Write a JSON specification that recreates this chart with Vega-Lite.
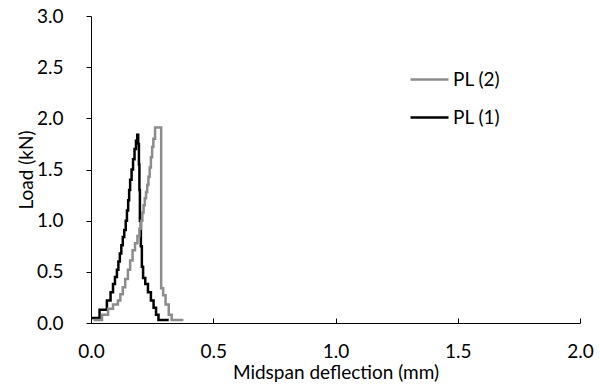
{
  "$schema": "https://vega.github.io/schema/vega-lite/v6.json",
  "width": 489,
  "height": 307,
  "autosize": "none",
  "padding": {"left": 91, "top": 16, "right": 20, "bottom": 67},
  "background": "white",
  "config": {
    "view": {"stroke": null},
    "font": "Lato",
    "axis": {"grid": false, "domainColor": "#000", "tickColor": "#000", "labelColor": "#000", "titleColor": "#000", "labelFont": "Lato", "titleFont": "Lato", "labelFontSize": 19, "titleFontSize": 19, "titleFontWeight": "normal", "labelFlush": false}
  },
  "data": {"values": [
    {"s": "PL (1)", "x": 0.0, "y": 0.05},
    {"s": "PL (1)", "x": 0.035, "y": 0.13},
    {"s": "PL (1)", "x": 0.065, "y": 0.22},
    {"s": "PL (1)", "x": 0.08, "y": 0.30},
    {"s": "PL (1)", "x": 0.09, "y": 0.38},
    {"s": "PL (1)", "x": 0.098, "y": 0.45},
    {"s": "PL (1)", "x": 0.106, "y": 0.52},
    {"s": "PL (1)", "x": 0.112, "y": 0.60},
    {"s": "PL (1)", "x": 0.118, "y": 0.68},
    {"s": "PL (1)", "x": 0.124, "y": 0.76},
    {"s": "PL (1)", "x": 0.130, "y": 0.84},
    {"s": "PL (1)", "x": 0.136, "y": 0.91},
    {"s": "PL (1)", "x": 0.142, "y": 1.00},
    {"s": "PL (1)", "x": 0.147, "y": 1.10},
    {"s": "PL (1)", "x": 0.152, "y": 1.20},
    {"s": "PL (1)", "x": 0.156, "y": 1.30},
    {"s": "PL (1)", "x": 0.160, "y": 1.40},
    {"s": "PL (1)", "x": 0.166, "y": 1.50},
    {"s": "PL (1)", "x": 0.172, "y": 1.60},
    {"s": "PL (1)", "x": 0.178, "y": 1.70},
    {"s": "PL (1)", "x": 0.184, "y": 1.78},
    {"s": "PL (1)", "x": 0.189, "y": 1.84},
    {"s": "PL (1)", "x": 0.193, "y": 1.75},
    {"s": "PL (1)", "x": 0.196, "y": 1.55},
    {"s": "PL (1)", "x": 0.198, "y": 1.30},
    {"s": "PL (1)", "x": 0.200, "y": 1.00},
    {"s": "PL (1)", "x": 0.204, "y": 0.75},
    {"s": "PL (1)", "x": 0.208, "y": 0.55},
    {"s": "PL (1)", "x": 0.213, "y": 0.44},
    {"s": "PL (1)", "x": 0.222, "y": 0.38},
    {"s": "PL (1)", "x": 0.233, "y": 0.30},
    {"s": "PL (1)", "x": 0.245, "y": 0.22},
    {"s": "PL (1)", "x": 0.256, "y": 0.15},
    {"s": "PL (1)", "x": 0.266, "y": 0.08},
    {"s": "PL (1)", "x": 0.276, "y": 0.03},
    {"s": "PL (1)", "x": 0.318, "y": 0.03},
    {"s": "PL (2)", "x": 0.01, "y": 0.03},
    {"s": "PL (2)", "x": 0.045, "y": 0.08},
    {"s": "PL (2)", "x": 0.07, "y": 0.14},
    {"s": "PL (2)", "x": 0.09, "y": 0.18},
    {"s": "PL (2)", "x": 0.11, "y": 0.22},
    {"s": "PL (2)", "x": 0.12, "y": 0.28},
    {"s": "PL (2)", "x": 0.13, "y": 0.35},
    {"s": "PL (2)", "x": 0.14, "y": 0.43},
    {"s": "PL (2)", "x": 0.151, "y": 0.52},
    {"s": "PL (2)", "x": 0.16, "y": 0.61},
    {"s": "PL (2)", "x": 0.17, "y": 0.71},
    {"s": "PL (2)", "x": 0.18, "y": 0.78},
    {"s": "PL (2)", "x": 0.19, "y": 0.85},
    {"s": "PL (2)", "x": 0.198, "y": 0.92},
    {"s": "PL (2)", "x": 0.205, "y": 1.00},
    {"s": "PL (2)", "x": 0.21, "y": 1.08},
    {"s": "PL (2)", "x": 0.215, "y": 1.15},
    {"s": "PL (2)", "x": 0.22, "y": 1.22},
    {"s": "PL (2)", "x": 0.225, "y": 1.28},
    {"s": "PL (2)", "x": 0.23, "y": 1.35},
    {"s": "PL (2)", "x": 0.235, "y": 1.43},
    {"s": "PL (2)", "x": 0.24, "y": 1.52},
    {"s": "PL (2)", "x": 0.245, "y": 1.62},
    {"s": "PL (2)", "x": 0.25, "y": 1.72},
    {"s": "PL (2)", "x": 0.255, "y": 1.80},
    {"s": "PL (2)", "x": 0.262, "y": 1.91},
    {"s": "PL (2)", "x": 0.286, "y": 1.91},
    {"s": "PL (2)", "x": 0.287, "y": 0.34},
    {"s": "PL (2)", "x": 0.295, "y": 0.27},
    {"s": "PL (2)", "x": 0.305, "y": 0.18},
    {"s": "PL (2)", "x": 0.318, "y": 0.08},
    {"s": "PL (2)", "x": 0.33, "y": 0.03},
    {"s": "PL (2)", "x": 0.378, "y": 0.03}
  ]},
  "mark": {"type": "line", "interpolate": "step-after", "strokeWidth": 2.5},
  "encoding": {
    "x": {"field": "x", "type": "quantitative", "scale": {"domain": [0, 2]},
      "axis": {"title": "Midspan deflection (mm)", "values": [0, 0.5, 1, 1.5, 2], "format": ".1f", "tickSize": -5, "labelPadding": 24, "titlePadding": 2}},
    "y": {"field": "y", "type": "quantitative", "scale": {"domain": [0, 3]},
      "axis": {"title": "Load (kN)", "values": [0, 0.5, 1, 1.5, 2, 2.5, 3], "format": ".1f", "tickSize": 5, "labelPadding": 23, "titlePadding": 0}},
    "color": {"field": "s", "type": "nominal", "sort": ["PL (2)", "PL (1)"],
      "scale": {"domain": ["PL (2)", "PL (1)"], "range": ["#8c8c8c", "#000000"]},
      "legend": {"title": null, "orient": "none", "legendX": 318, "legendY": 43, "symbolType": "stroke", "symbolSize": 1444, "symbolStrokeWidth": 2.5, "rowPadding": 7, "labelFontSize": 19, "labelFont": "Lato", "labelColor": "#000", "labelOffset": 3, "padding": 0}}
  }
}
